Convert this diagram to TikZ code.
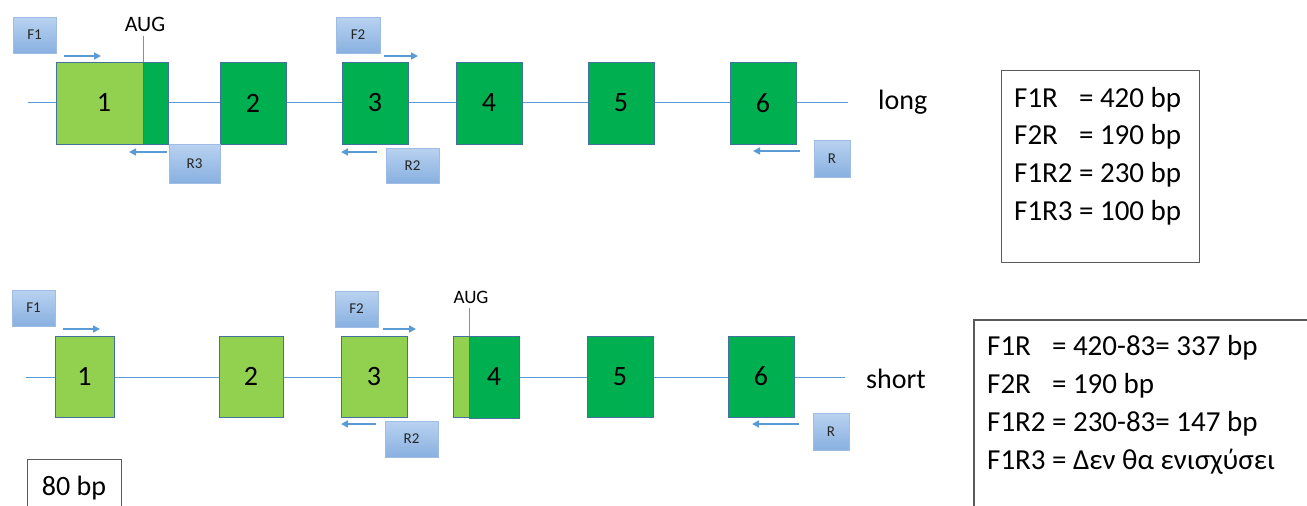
\documentclass[tikz,border=0pt]{standalone}
\usepackage{fontspec}
\setmainfont{Carlito}
\usetikzlibrary{arrows.meta}
\definecolor{lgreen}{HTML}{92D050}
\definecolor{dgreen}{HTML}{00B050}
\definecolor{exline}{HTML}{41719C}
\definecolor{bline}{HTML}{5B9BD5}
\definecolor{ptop}{HTML}{B9D2F0}
\definecolor{pbot}{HTML}{88B0E0}
\definecolor{pbord}{HTML}{9FBCE4}
\definecolor{boxline}{HTML}{5A5A5A}
\begin{document}
\begin{tikzpicture}[x=1pt,y=-1pt,
  exon/.style={draw=exline, line width=0.9pt, inner sep=0pt, outer sep=0pt, anchor=north west,
    font=\fontsize{28}{30}\selectfont},
  primer/.style={draw=pbord, line width=0.8pt, top color=ptop, bottom color=pbot, inner sep=0pt,
    outer sep=0pt, anchor=north west, font=\fontsize{15}{17}\selectfont, text=black!85},
  backbone/.style={draw=bline, line width=1pt},
  parrow/.style={draw=bline, line width=1.6pt, -{Triangle[length=7pt,width=7pt]}},
  augline/.style={draw=bline, line width=1pt},
  bigtext/.style={font=\fontsize{28}{30}\selectfont, inner sep=0pt},
  resbox/.style={draw=boxline, line width=1.4pt},
]
\useasboundingbox (0,0) rectangle (1307,506);

% ================= LONG =================
\coordinate (L1s) at (28,102);
\coordinate (L1e) at (848,102);
\draw[backbone] (L1s) -- (L1e);

\node[exon, fill=lgreen, minimum width=87pt, minimum height=82pt] (a1) at (56,62) {};
\node[exon, fill=dgreen, minimum width=25pt, minimum height=82pt] (a1b) at (143,62) {};
\node[bigtext] (a1t) at (104,102) {1};
\node[exon, fill=dgreen, minimum width=66pt, minimum height=82pt] (a2) at (220,62) {2};
\node[exon, fill=dgreen, minimum width=66pt, minimum height=82pt] (a3) at (342,62) {3};
\node[exon, fill=dgreen, minimum width=66pt, minimum height=82pt] (a4) at (456,62) {4};
\node[exon, fill=dgreen, minimum width=66pt, minimum height=82pt] (a5) at (588,62) {5};
\node[exon, fill=dgreen, minimum width=66pt, minimum height=82pt] (a6) at (730,62) {6};

\node[font=\fontsize{22}{24}\selectfont, inner sep=0pt, anchor=base] (aug1) at (145,31) {AUG};
\coordinate (aug1b) at (143,36);
\draw[augline] (aug1b) -- (a1b.north west);

\node[primer, minimum width=43pt, minimum height=36pt] (pF1a) at (13,17) {F1};
\coordinate (aF1s) at (64,56); \coordinate (aF1e) at (101,56);
\draw[parrow] (aF1s) -- (aF1e);
\node[primer, minimum width=51pt, minimum height=39pt] (pR3a) at (169,144) {R3};
\coordinate (aR3s) at (167,152); \coordinate (aR3e) at (129,152);
\draw[parrow] (aR3s) -- (aR3e);
\node[primer, minimum width=44pt, minimum height=36pt] (pF2a) at (336,17) {F2};
\coordinate (aF2s) at (384,56); \coordinate (aF2e) at (418,56);
\draw[parrow] (aF2s) -- (aF2e);
\node[primer, minimum width=53pt, minimum height=35pt] (pR2a) at (386,148) {R2};
\coordinate (aR2s) at (377,152); \coordinate (aR2e) at (341,152);
\draw[parrow] (aR2s) -- (aR2e);
\node[primer, minimum width=36pt, minimum height=37pt] (pRa) at (814,140) {R};
\coordinate (aRs) at (800,151); \coordinate (aRe) at (753,151);
\draw[parrow] (aRs) -- (aRe);

\node[bigtext, anchor=west] (long) at (878,102) {long};

% ================= SHORT =================
\coordinate (L2s) at (26,377);
\coordinate (L2e) at (845,377);
\draw[backbone] (L2s) -- (L2e);

\node[exon, fill=lgreen, minimum width=59pt, minimum height=81pt] (b1) at (55,336) {1};
\node[exon, fill=lgreen, minimum width=64pt, minimum height=81pt] (b2) at (219,336) {2};
\node[exon, fill=lgreen, minimum width=66pt, minimum height=81pt] (b3) at (341,336) {3};
\node[exon, fill=lgreen, minimum width=17pt, minimum height=81pt] (b4a) at (453,336) {};
\node[exon, fill=dgreen, minimum width=50pt, minimum height=82pt] (b4) at (469,336) {4};
\node[exon, fill=dgreen, minimum width=66pt, minimum height=81pt] (b5) at (587,336) {5};
\node[exon, fill=dgreen, minimum width=66pt, minimum height=81pt] (b6) at (728,336) {6};

\node[font=\fontsize{19}{21}\selectfont, inner sep=0pt, anchor=base] (aug2) at (471,303) {AUG};
\coordinate (aug2b) at (469,308);
\draw[augline] (aug2b) -- (b4.north west);

\node[primer, minimum width=43pt, minimum height=36pt] (pF1b) at (12,290) {F1};
\coordinate (bF1s) at (63,329); \coordinate (bF1e) at (100,329);
\draw[parrow] (bF1s) -- (bF1e);
\node[primer, minimum width=43pt, minimum height=36pt] (pF2b) at (335,291) {F2};
\coordinate (bF2s) at (383,329); \coordinate (bF2e) at (416,329);
\draw[parrow] (bF2s) -- (bF2e);
\node[primer, minimum width=53pt, minimum height=36pt] (pR2b) at (385,421) {R2};
\coordinate (bR2s) at (376,424); \coordinate (bR2e) at (341,424);
\draw[parrow] (bR2s) -- (bR2e);
\node[primer, minimum width=36pt, minimum height=37pt] (pRb) at (813,413) {R};
\coordinate (bRs) at (799,424); \coordinate (bRe) at (752,424);
\draw[parrow] (bRs) -- (bRe);

\node[bigtext, anchor=west] (short) at (866,379) {short};

% scale box
\node[resbox, anchor=north west, minimum width=94pt, minimum height=60pt, inner sep=0pt] (scale) at (27,459) {};
\node[bigtext, anchor=base] (scalet) at (74,495) {80 bp};

% ================= RESULT BOXES =================
\node[resbox, anchor=north west, minimum width=198pt, minimum height=192pt, inner sep=0pt] (res1) at (1001,70) {};
\node[font=\fontsize{29}{37.7}\selectfont, inner sep=0pt, anchor=base west] (res1t) at (1014,107)
  {\begin{tabular}[t]{@{}l@{\hspace{0.22em}}l@{}}
   F1R & = 420 bp\\
   F2R & = 190 bp\\
   F1R2 & = 230 bp\\
   F1R3 & = 100 bp
   \end{tabular}};

\coordinate (r2bl) at (974,510);
\coordinate (r2tl) at (974,320);
\coordinate (r2tr) at (1310,320);
\draw[resbox] (r2bl) -- (r2tl) -- (r2tr);
\node[font=\fontsize{29}{38}\selectfont, inner sep=0pt, anchor=base west] (res2t) at (987,355)
  {\begin{tabular}[t]{@{}l@{\hspace{0.22em}}l@{}}
   F1R & = 420-83= 337 bp\\
   F2R & = 190 bp\\
   F1R2 & = 230-83= 147 bp\\
   F1R3 & = Δεν θα ενισχύσει
   \end{tabular}};
\end{tikzpicture}
\end{document}
